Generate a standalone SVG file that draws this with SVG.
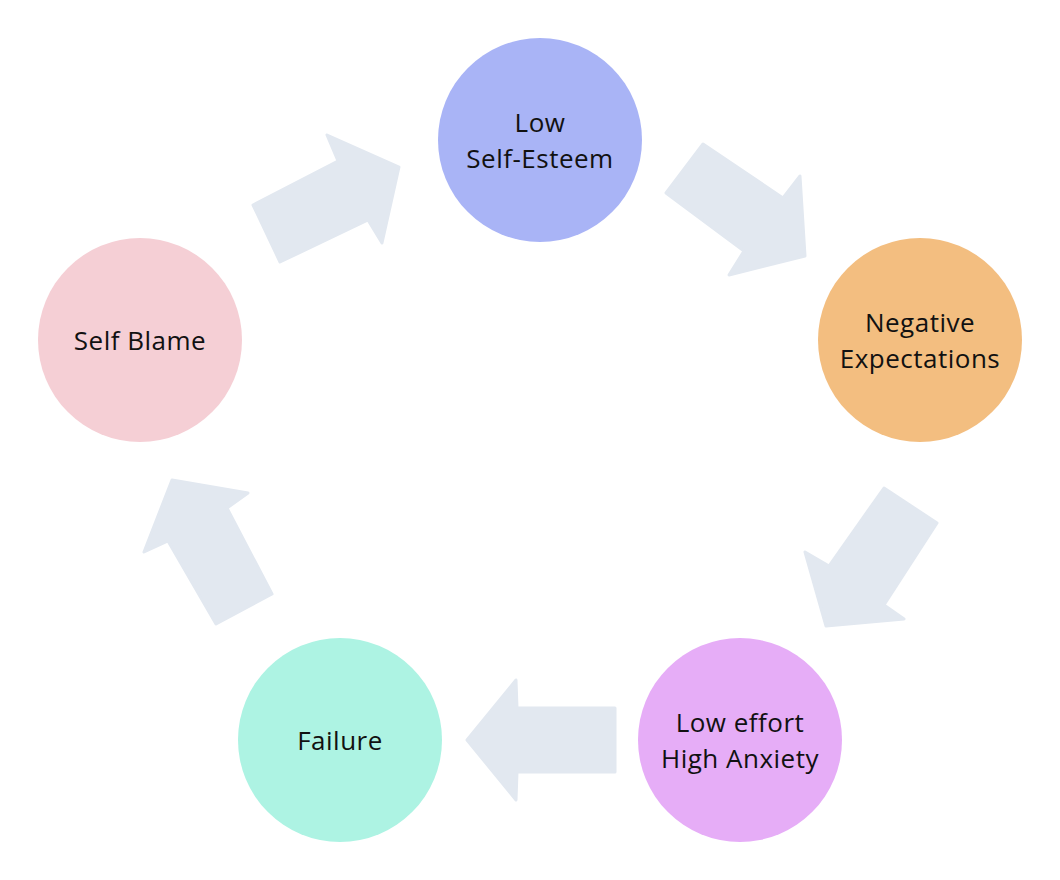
<svg xmlns="http://www.w3.org/2000/svg" width="1060" height="880" viewBox="0 0 1060 880">
<style>
.arrow{fill:#E2E8F0;stroke:#E2E8F0;stroke-width:3;stroke-linejoin:round}
.label{font-family:"Open Sans","Noto Sans","DejaVu Sans",sans-serif;font-size:26px;letter-spacing:0.5px;fill:#111111;text-anchor:middle}
</style>
<rect width="1060" height="880" fill="#ffffff"/>
<g id="connectors">
<polygon class="arrow" points="253,205 338,161 327,135 399,167 382,243 368,220 280,262"/>
<polygon class="arrow" points="703,144 783,198 800,176 805,256 729,275 744,251 666,193"/>
<polygon class="arrow" points="884,488 937,523 884,605 904,619 826,626 805,552 829,566"/>
<polygon class="arrow" points="615,708 517,708 516,680 467,740 516,800 517,772 615,772"/>
<polygon class="arrow" points="216,624 272,594 227,508 248,493 172,480 144,552 168,541"/>
</g>
<g id="node-low-self-esteem">
<circle cx="540" cy="140" r="102" fill="#A9B4F6"/>
<text class="label" x="540" y="132">Low</text>
<text class="label" x="540" y="168">Self-Esteem</text>
</g>
<g id="node-negative-expectations">
<circle cx="920" cy="340" r="102" fill="#F3BE80"/>
<text class="label" x="920" y="332">Negative</text>
<text class="label" x="920" y="368">Expectations</text>
</g>
<g id="node-low-effort">
<circle cx="740" cy="740" r="102" fill="#E6ADF7"/>
<text class="label" x="740" y="732">Low effort</text>
<text class="label" x="740" y="768">High Anxiety</text>
</g>
<g id="node-failure">
<circle cx="340" cy="740" r="102" fill="#ADF3E3"/>
<text class="label" x="340" y="750">Failure</text>
</g>
<g id="node-self-blame">
<circle cx="140" cy="340" r="102" fill="#F5CFD5"/>
<text class="label" x="140" y="350">Self Blame</text>
</g>
</svg>
